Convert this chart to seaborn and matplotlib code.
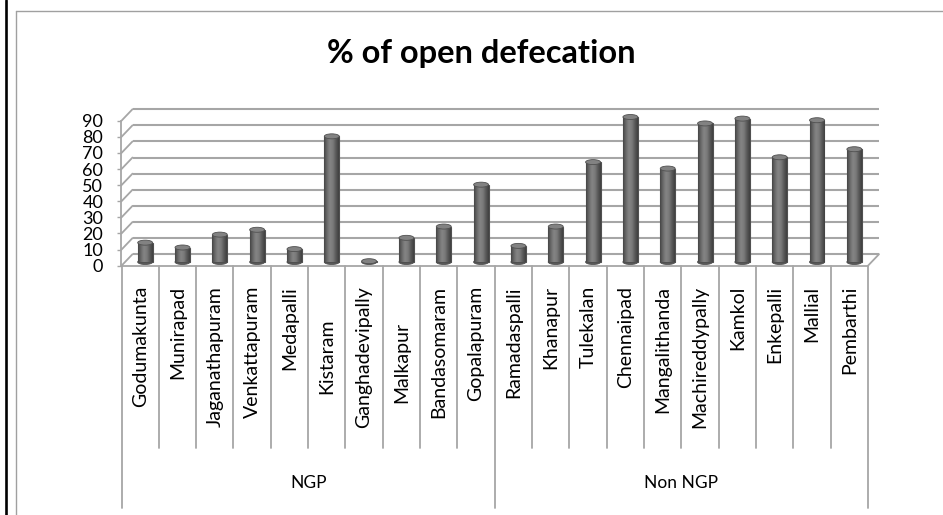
import numpy as np
import pandas as pd
import matplotlib
matplotlib.use("Agg")
import matplotlib.pyplot as plt
import matplotlib.transforms as mtransforms
from matplotlib.patches import Ellipse
from matplotlib.lines import Line2D
from matplotlib.colors import LinearSegmentedColormap
import seaborn as sns

# ---------------- data ----------------
title = "% of open defecation"
groups = ["NGP", "Non NGP"]
ngp_villages = ["Godumakunta", "Munirapad", "Jaganathapuram", "Venkattapuram",
                "Medapalli", "Kistaram         ", "Ganghadevipally", "Malkapur          ",
                "Bandasomaram", "Gopalapuram"]
ngp_values = [12, 9, 17, 20, 8, 78, 0.5, 15, 22, 48]
non_ngp_villages = ["Ramadaspalli", "Khanapur", "Tulekalan", "Chennaipad",
                    "Mangalithanda", "Machireddypally", "Kamkol", "Enkepalli",
                    "Mallial", "Pembarthi"]
non_ngp_values = [10, 22, 62, 90, 58, 86, 89, 65, 88, 70]
y_ticks = [0, 10, 20, 30, 40, 50, 60, 70, 80, 90]

# ---------------- style ----------------
sns.set_style("white")
plt.rcParams["font.family"] = ["Lato", "DejaVu Sans"]

W, H, DPI = 943, 515, 100
fig = plt.figure(figsize=(W / DPI, H / DPI), dpi=DPI)
fig.patch.set_facecolor("white")


def fx(px):
    return px / W


def fy(py):
    return 1 - py / H


GRID = "#a6a6a6"
x_left, x_right = 121.5, 868.0
y_zero, y_top = 265.7, 120.7
ax = fig.add_axes([fx(x_left), fy(y_zero), (x_right - x_left) / W, (y_zero - y_top) / H])
ax.set_facecolor("none")

villages = ngp_villages + non_ngp_villages
values = ngp_values + non_ngp_values
grp = [groups[0]] * len(ngp_villages) + [groups[1]] * len(non_ngp_villages)
df = pd.DataFrame({"village": villages, "value": values, "group": grp})
n = len(villages)

sns.barplot(data=df, x="village", y="value", order=villages, color="#767676",
            saturation=1, width=0.4, errorbar=None, edgecolor="#505050",
            linewidth=0.8, ax=ax, zorder=3)

ax.set_xlim(-0.5, n - 0.5)
ax.set_ylim(y_ticks[0], y_ticks[-1])
px_per_unit = (y_zero - y_top) / (y_ticks[-1] - y_ticks[0])


def shift(dx, dy):
    return mtransforms.ScaledTranslation(dx / DPI, dy / DPI, fig.dpi_scale_trans)


bar_T = ax.transData + shift(5, 3.7)
back_T = ax.transData + shift(11, 11.5)

# cylinder shading
cmap = LinearSegmentedColormap.from_list(
    "cyl", ["#454545", "#6a6a6a", "#858585", "#7a7a7a", "#5a5a5a", "#404040"])
grad = np.linspace(0, 1, 64)[None, :]
cap_h = 5.0 / px_per_unit
for p in list(ax.patches):
    x0, w, h = p.get_x(), p.get_width(), p.get_height()
    p.set_transform(bar_T)
    p.set_clip_on(False)
    bottom = Ellipse((x0 + w / 2, 0), w, cap_h, transform=bar_T,
                     facecolor="#5a5a5a", edgecolor="#505050", lw=0.6, zorder=2.9,
                     clip_on=False)
    ax.add_patch(bottom)
    im = ax.imshow(grad, cmap=cmap, extent=[x0, x0 + w, 0, h], aspect="auto",
                   transform=bar_T, zorder=3.5, interpolation="bilinear")
    im.set_clip_path(p)
    cap = Ellipse((x0 + w / 2, h), w, cap_h, transform=bar_T,
                  facecolor="#828282", edgecolor="#505050", lw=0.6, zorder=4,
                  clip_on=False)
    ax.add_patch(cap)

ax.set_xlim(-0.5, n - 0.5)
ax.set_ylim(y_ticks[0], y_ticks[-1])

# back wall gridlines
ax.hlines(y_ticks, -0.5, n - 0.5, transform=back_T, colors=GRID, lw=1.5,
          zorder=1, clip_on=False)


def to_disp(x, y):
    return ax.transData.transform((x, y))


# left wall diagonals and floor right diagonal
for v in y_ticks:
    a = to_disp(-0.5, v)
    fig.add_artist(Line2D([a[0], a[0] + 11], [a[1], a[1] + 11.5],
                          transform=mtransforms.IdentityTransform(),
                          color=GRID, lw=1.3))
a = to_disp(n - 0.5, 0)
fig.add_artist(Line2D([a[0], a[0] + 11], [a[1], a[1] + 11.5],
                      transform=mtransforms.IdentityTransform(), color=GRID, lw=1.3))

# axes styling
for s in ["top", "right", "bottom"]:
    ax.spines[s].set_visible(False)
ax.spines["left"].set_color(GRID)
ax.spines["left"].set_linewidth(1.3)
ax.set_yticks(y_ticks)
ax.tick_params(axis="y", length=3.2, width=1, color=GRID, pad=10, labelsize=13,
               labelcolor="black", left=True)
ax.tick_params(axis="x", bottom=False, labelbottom=False)
ax.set_xlabel("")
ax.set_ylabel("")
ax.grid(False)

# category table
xt = ax.get_xaxis_transform()


def frac(py):
    return (y_zero - py) / (y_zero - y_top)


ax.plot([-0.5, n - 0.5], [0, 0], transform=xt, color=GRID, lw=1.3, clip_on=False, zorder=2)
n_ngp = len(ngp_villages)
for i in range(n + 1):
    xb = i - 0.5
    long_line = i in (0, n_ngp, n)
    ax.plot([xb, xb], [frac(y_zero), frac(508 if long_line else 448)], transform=xt,
            color=GRID, lw=1.3, clip_on=False)

# rotated labels are aligned at their end (top); trailing spaces push the text down
SPACE_PX = 3.6
for i, name in enumerate(villages):
    trailing = len(name) - len(name.rstrip(" "))
    ax.text(i, frac(286 + trailing * SPACE_PX), name.rstrip(" "), transform=xt,
            rotation=90, ha="center", va="top", fontsize=14, color="black",
            clip_on=False)

ax.text((n_ngp - 1) / 2, frac(483), groups[0], transform=xt, ha="center", va="center",
        fontsize=12.5, color="black")
ax.text(n_ngp + (n - n_ngp - 1) / 2, frac(483), groups[1], transform=xt, ha="center",
        va="center", fontsize=12.5, color="black")

# title
fig.text(fx(481), fy(63), title, ha="center", va="baseline", fontsize=23.5,
         fontweight="bold", color="black")

# outer frames
fig.add_artist(Line2D([fx(6.2)] * 2, [0, 1], transform=fig.transFigure,
                      color="black", lw=1.9))
fig.add_artist(Line2D([fx(15.8)] * 2, [0, fy(11)], transform=fig.transFigure,
                      color="#a0a0a0", lw=1.0))
fig.add_artist(Line2D([fx(15.8), 1], [fy(11)] * 2, transform=fig.transFigure,
                      color="#a0a0a0", lw=1.0))

fig.savefig("out.png", dpi=DPI)
